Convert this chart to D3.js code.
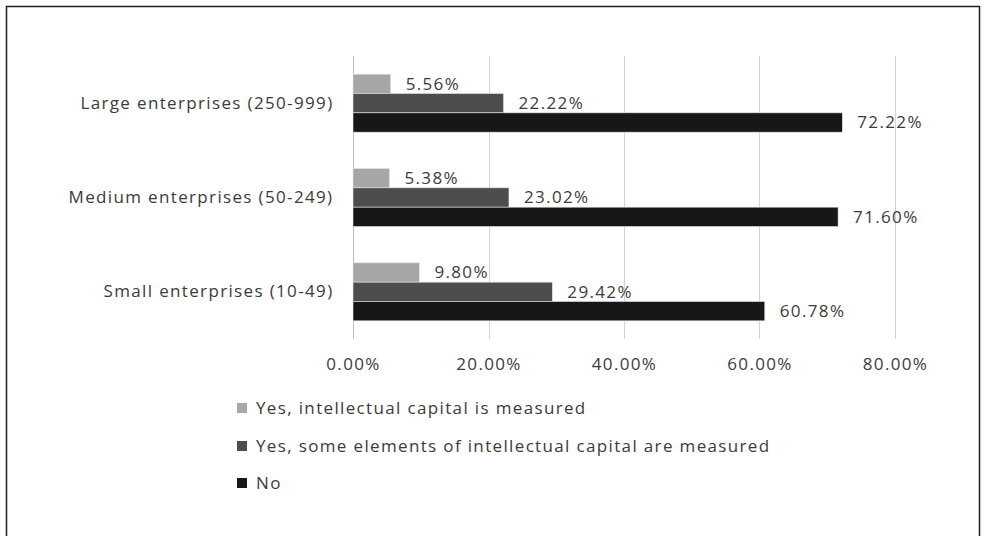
<!DOCTYPE html>
<html>
<head>
<meta charset="utf-8">
<script src="https://cdn.jsdelivr.net/npm/d3@7"></script>
<style>
  html, body { margin: 0; padding: 0; background: #fff; }
  svg { display: block; font-family: "Open Sans", "Noto Sans", sans-serif; }
  svg text { letter-spacing: 1.35px; }
</style>
</head>
<body>
<svg id="chart" width="990" height="536"></svg>
<script>
// Company size groups, top to bottom
const categories = ["Large enterprises (250-999)", "Medium enterprises (50-249)", "Small enterprises (10-49)"];
// Answer options (series)
const seriesNames = [
  "Yes, intellectual capital is measured",
  "Yes, some elements of intellectual capital are measured",
  "No"
];
// Shares per group, one array per series, in category order
const measured = [0.0556, 0.0538, 0.0980];
const someMeasured = [0.2222, 0.2302, 0.2942];
const notMeasured = [0.7222, 0.7160, 0.6078];
const seriesValues = [measured, someMeasured, notMeasured];
const xTicks = [0, 0.2, 0.4, 0.6, 0.8];
const seriesColors = ["#a6a6a6", "#4d4d4d", "#171717"];

const svg = d3.select("#chart");
const textColor = "#3b3b3b";
const fontSize = 17;
const fontFamily = "\"Open Sans\", \"Noto Sans\", sans-serif";

svg.append("rect").attr("width", 990).attr("height", 536).attr("fill", "#fff");
// frame around the chart
svg.append("rect")
  .attr("x", 6.5).attr("y", 6.5).attr("width", 973).attr("height", 545)
  .attr("fill", "none").attr("stroke", "#1f1f1f").attr("stroke-width", 1.5);

const x = d3.scaleLinear().domain([0, 0.8]).range([353, 895]);
const y = d3.scaleBand().domain(categories).range([56, 339]).paddingInner(0.385).paddingOuter(0.1925);
const ySub = d3.scaleBand().domain(d3.range(seriesNames.length)).range([0, y.bandwidth()]);

// vertical gridlines
svg.append("g").selectAll("line").data(xTicks).join("line")
  .attr("x1", d => Math.round(x(d)) + 0.5).attr("x2", d => Math.round(x(d)) + 0.5)
  .attr("y1", 56).attr("y2", 339)
  .attr("stroke", "#d4d4d4").attr("stroke-width", 1);

// x axis labels
const xAxis = d3.axisBottom(x).tickValues(xTicks).tickFormat(d3.format(".2%")).tickSize(0).tickPadding(0);
const gx = svg.append("g").attr("transform", "translate(0,358)").call(xAxis);
gx.select(".domain").remove();
gx.selectAll("text").attr("font-size", fontSize).attr("fill", textColor)
  .attr("font-family", fontFamily);

// category axis line at zero
svg.append("line")
  .attr("x1", Math.round(x(0)) + 0.5).attr("x2", Math.round(x(0)) + 0.5)
  .attr("y1", 56).attr("y2", 339)
  .attr("stroke", "#bfbfbf");

// category labels
const yAxis = d3.axisLeft(y).tickSize(0).tickPadding(19.5);
const gy = svg.append("g").attr("transform", `translate(${x(0)},0)`).call(yAxis);
gy.select(".domain").remove();
gy.selectAll("text").attr("font-size", fontSize).attr("fill", textColor)
  .attr("font-family", fontFamily);

// bars and value labels
const flat = [];
categories.forEach((c, ci) => {
  seriesValues.forEach((vals, si) => flat.push({ c, si, v: vals[ci] }));
});

svg.append("g").selectAll("rect").data(flat).join("rect")
  .attr("x", x(0))
  .attr("y", d => y(d.c) + ySub(d.si))
  .attr("width", d => x(d.v) - x(0))
  .attr("height", ySub.bandwidth())
  .attr("fill", d => seriesColors[d.si])
  .attr("stroke", "#e6e6e6").attr("stroke-width", 0.6);

svg.append("g").selectAll("text").data(flat).join("text")
  .attr("x", d => x(d.v) + 15)
  .attr("y", d => y(d.c) + ySub(d.si) + ySub.bandwidth() / 2)
  .attr("dy", "0.35em")
  .attr("font-size", fontSize).attr("fill", textColor)
  .text(d => d3.format(".2%")(d.v));

// legend
const legend = svg.append("g").attr("transform", "translate(237,0)");
const legendY = [408, 446, 483];
const items = legend.selectAll("g").data(seriesNames).join("g")
  .attr("transform", (d, i) => `translate(0,${legendY[i]})`);
items.append("rect").attr("x", 0).attr("y", -5).attr("width", 10).attr("height", 10)
  .attr("fill", (d, i) => seriesColors[i]);
items.append("text").attr("x", 19).attr("dy", "0.35em")
  .attr("font-size", fontSize).attr("fill", textColor)
  .text(d => d);
</script>
</body>
</html>
